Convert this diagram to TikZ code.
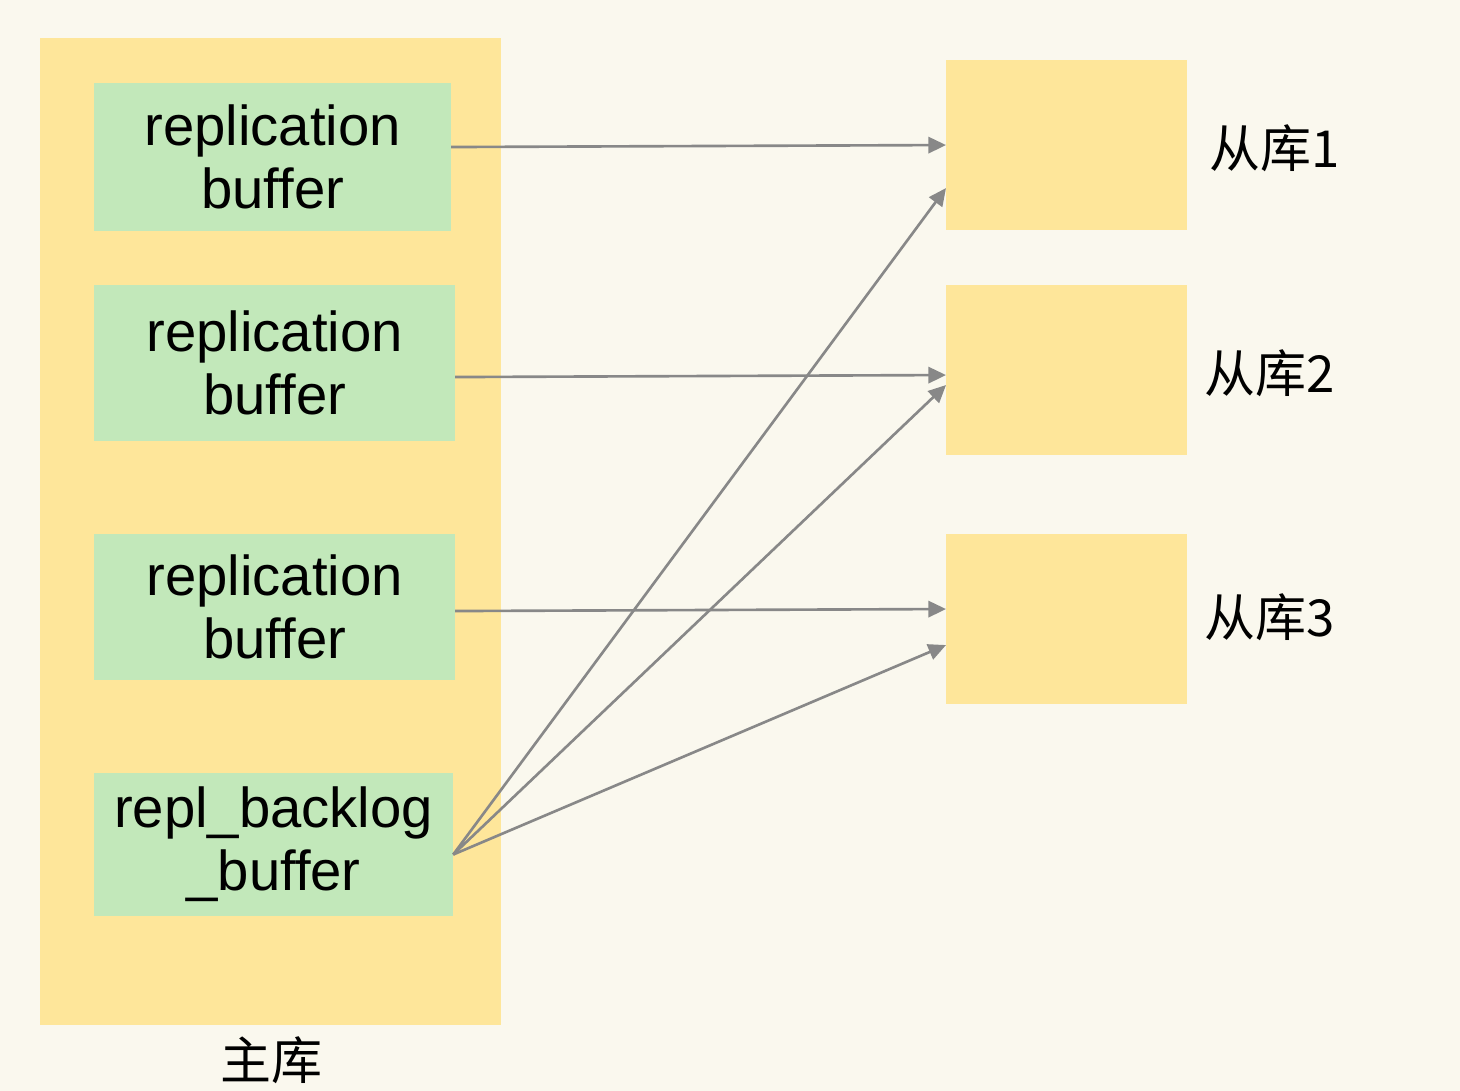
\documentclass[tikz,border=0pt]{standalone}
\usepackage{fontspec}
\setmainfont{Liberation Sans}
\newfontfamily\cjk{Noto Sans CJK SC}
\usetikzlibrary{arrows.meta}

\definecolor{bgcream}{HTML}{FAF8EE}
\definecolor{mastery}{HTML}{FEE69A}
\definecolor{bufgreen}{HTML}{C2E8BA}
\definecolor{arrgray}{HTML}{888888}

\begin{document}
\begin{tikzpicture}[x=0.01cm, y=-0.01cm,
    box/.style={anchor=north west, inner sep=0pt, outer sep=0pt},
    buf/.style={box, fill=bufgreen, align=center, font=\fontsize{16}{18}\selectfont},
    slave/.style={box, fill=mastery, minimum width=2.41cm, minimum height=1.70cm},
    lab/.style={font=\cjk\fontsize{14.5}{16}\selectfont},
    arr/.style={arrgray, line width=0.75pt, -{Triangle[length=5pt, width=4.6pt]}}]
    % 背景
    \fill[bgcream] (0,0) rectangle (1460,1091);
    \useasboundingbox (0,0) rectangle (1460,1091);

    % 主库
    \node[box, fill=mastery, minimum width=4.61cm, minimum height=9.86cm] (master) at (40,38) {};
    \node[lab] (masterlab) at (271,1060) {主库};

    % 复制缓冲区
    \node[buf, minimum width=3.57cm, minimum height=1.48cm] (buf1) at (94,83) {replication\\buffer};
    \node[buf, minimum width=3.61cm, minimum height=1.56cm] (buf2) at (94,285) {replication\\buffer};
    \node[buf, minimum width=3.61cm, minimum height=1.46cm] (buf3) at (94,534) {replication\\buffer};
    \node[buf, minimum width=3.59cm, minimum height=1.43cm] (backlog) at (94,773) {repl\_backlog\\\_buffer};

    % 从库
    \node[slave] (s1) at (946,60) {};
    \node[slave] (s2) at (946,285) {};
    \node[slave] (s3) at (946,534) {};
    \node[lab] (s1lab) at (1275,148) {从库1};
    \node[lab] (s2lab) at (1270,373) {从库2};
    \node[lab] (s3lab) at (1270,617) {从库3};

    % 箭头
    \draw[arr] ([yshift=0.1cm]buf1.east) -- ([yshift=0cm]s1.west);
    \draw[arr] ([yshift=-0.14cm]buf2.east) -- ([yshift=-0.05cm]s2.west);
    \draw[arr] ([yshift=-0.04cm]buf3.east) -- ([yshift=0.1cm]s3.west);
    \coordinate (bkout) at ([yshift=-0.1cm]backlog.east);
    \draw[arr] (bkout) -- ([yshift=-0.43cm]s1.west);
    \draw[arr] (bkout) -- ([yshift=-0.15cm]s2.west);
    \draw[arr] (bkout) -- ([yshift=-0.26cm]s3.west);
\end{tikzpicture}
\end{document}
